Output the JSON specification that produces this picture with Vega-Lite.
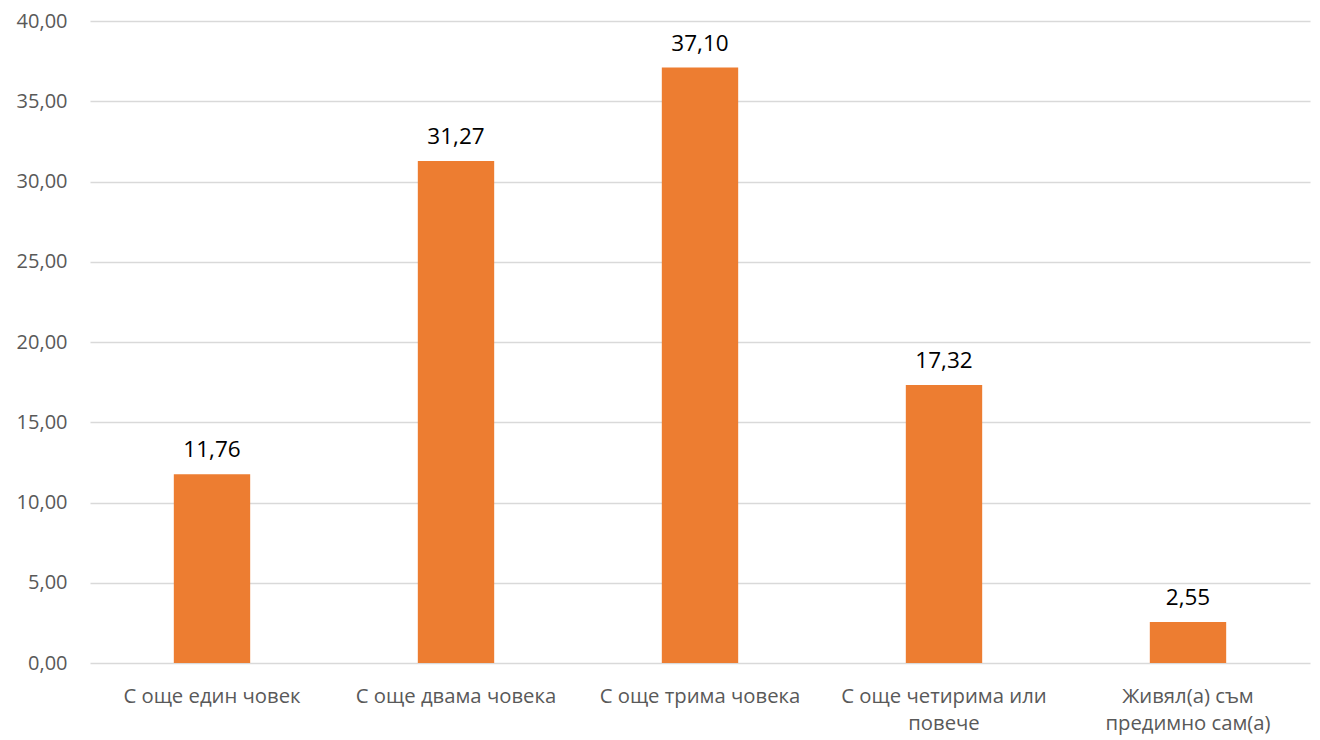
{
  "$schema": "https://vega.github.io/schema/vega-lite/v6.json",
  "width": 1220,
  "height": 642,
  "autosize": "none",
  "padding": {"left": 90, "top": 21, "right": 10, "bottom": 77},
  "background": "white",
  "config": {
    "locale": {"number": {"decimal": ",", "thousands": " ", "grouping": [3], "currency": ["", ""]}},
    "view": {"stroke": null},
    "font": "Open Sans"
  },
  "data": {
    "values": [
      {"cat": "С още един човек", "value": 11.76},
      {"cat": "С още двама човека", "value": 31.27},
      {"cat": "С още трима човека", "value": 37.10},
      {"cat": "С още четирима или|повече", "value": 17.32},
      {"cat": "Живял(а) съм|предимно сам(а)", "value": 2.55}
    ]
  },
  "encoding": {
    "x": {
      "field": "cat", "type": "nominal", "sort": null,
      "scale": {"paddingInner": 0.687, "paddingOuter": 0.3435},
      "axis": {
        "title": null, "labelAngle": 0, "domain": false, "ticks": false,
        "labelExpr": "split(datum.label, '|')",
        "labelFont": "Open Sans", "labelFontSize": 20.3, "labelColor": "#595959",
        "labelPadding": 23, "labelLineHeight": 27, "labelBaseline": "top",
        "labelLimit": 500, "labelOverlap": false
      }
    },
    "y": {
      "field": "value", "type": "quantitative",
      "scale": {"domain": [0, 40], "nice": false},
      "axis": {
        "title": null, "values": [0, 5, 10, 15, 20, 25, 30, 35, 40],
        "format": ".2f", "domain": false, "ticks": false,
        "gridColor": "#d9d9d9", "gridWidth": 1.3,
        "labelFont": "Open Sans", "labelFontSize": 20, "labelColor": "#595959",
        "labelPadding": 23
      }
    }
  },
  "layer": [
    {"mark": {"type": "bar", "color": "#ed7d31"}},
    {
      "mark": {"type": "text", "baseline": "alphabetic", "dy": -17, "fontSize": 22.5, "color": "#000000", "font": "Open Sans"},
      "encoding": {"text": {"field": "value", "type": "quantitative", "format": ".2f"}}
    }
  ]
}
